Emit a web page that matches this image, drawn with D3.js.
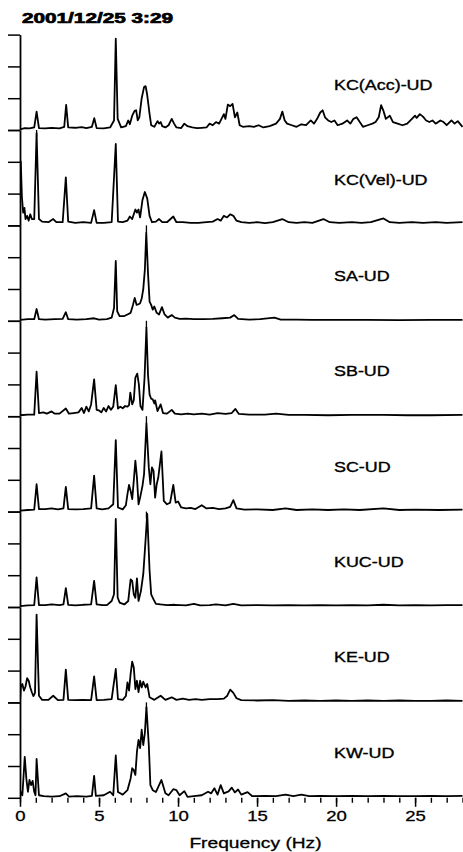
<!DOCTYPE html>
<html><head><meta charset="utf-8">
<script src="https://cdn.jsdelivr.net/npm/d3@7"></script>
<style>html,body{margin:0;padding:0;background:#fff;}svg{display:block;}</style>
</head><body>
<svg id="chart" width="463" height="852"></svg>
<script>
const title = "2001/12/25 3:29";
const panelNames = ["KC(Acc)-UD","KC(Vel)-UD","SA-UD","SB-UD","SC-UD","KUC-UD","KE-UD","KW-UD"];
const xTicks = [0,5,10,15,20,25];
const xMinorTicks = d3.range(0,29,1);
const yTicks = [0,1,2,3];
const markerFreqs = [1.05, 8.0, 8.0, 8.0, 8.0, null, 8.0, null];

const kcAcc = [[0,0.02],[0.3,0.06],[0.6,0.05],[0.9,0.08],[1.05,0.58],[1.2,0.06],[1.6,0.05],[2.0,0.07],[2.5,0.05],[2.8,0.1],[2.92,0.79],[3.05,0.08],[3.5,0.07],[3.9,0.09],[4.2,0.06],[4.55,0.1],[4.7,0.37],[4.85,0.06],[5.3,0.05],[5.7,0.08],[5.95,0.3],[6.06,2.87],[6.18,0.35],[6.4,0.08],[6.7,0.12],[6.85,0.3],[6.95,0.18],[7.1,0.45],[7.25,0.6],[7.35,0.62],[7.45,0.3],[7.55,0.4],[7.7,1.0],[7.85,1.35],[7.95,1.38],[8.05,1.1],[8.2,0.5],[8.3,0.15],[8.5,0.1],[8.7,0.28],[8.8,0.2],[8.9,0.25],[9.0,0.12],[9.2,0.08],[9.4,0.15],[9.6,0.35],[9.75,0.2],[9.9,0.08],[10.2,0.06],[10.4,0.2],[10.6,0.12],[10.9,0.08],[11.2,0.06],[11.5,0.07],[11.8,0.08],[12.0,0.2],[12.2,0.15],[12.4,0.25],[12.6,0.2],[12.75,0.35],[12.9,0.5],[13.0,0.35],[13.15,0.8],[13.3,0.75],[13.45,0.82],[13.6,0.4],[13.75,0.55],[13.9,0.15],[14.1,0.1],[14.5,0.12],[14.8,0.1],[15.1,0.15],[15.4,0.08],[15.8,0.12],[16.2,0.2],[16.45,0.35],[16.6,0.58],[16.75,0.3],[16.9,0.2],[17.2,0.15],[17.5,0.1],[17.8,0.18],[18.1,0.15],[18.4,0.3],[18.6,0.2],[18.8,0.35],[19.0,0.55],[19.15,0.62],[19.3,0.4],[19.5,0.3],[19.7,0.25],[19.9,0.3],[20.1,0.15],[20.4,0.2],[20.7,0.3],[20.9,0.2],[21.1,0.35],[21.3,0.4],[21.5,0.25],[21.7,0.1],[22.0,0.15],[22.3,0.2],[22.5,0.25],[22.7,0.4],[22.85,0.78],[23.0,0.6],[23.15,0.35],[23.4,0.45],[23.6,0.25],[23.9,0.2],[24.2,0.15],[24.5,0.2],[24.8,0.35],[25.0,0.45],[25.1,0.38],[25.3,0.5],[25.5,0.42],[25.7,0.3],[25.9,0.25],[26.1,0.3],[26.3,0.2],[26.6,0.3],[26.8,0.25],[27.0,0.15],[27.3,0.3],[27.5,0.2],[27.7,0.28],[28.0,0.1]];

const kcVel = [[0,2.05],[0.05,2.0],[0.12,0.9],[0.2,0.4],[0.28,0.55],[0.35,0.2],[0.45,0.3],[0.55,0.15],[0.65,0.35],[0.75,0.2],[0.9,0.2],[1.05,2.9],[1.2,0.2],[1.4,0.12],[1.8,0.1],[2.1,0.2],[2.3,0.1],[2.7,0.1],[2.9,1.51],[3.05,0.12],[3.5,0.08],[4.0,0.1],[4.5,0.08],[4.69,0.48],[4.85,0.08],[5.3,0.08],[5.8,0.1],[6.06,2.56],[6.2,0.12],[6.5,0.1],[6.8,0.15],[6.95,0.28],[7.1,0.2],[7.3,0.5],[7.4,0.4],[7.5,0.5],[7.6,0.25],[7.75,0.8],[7.9,1.05],[8.05,0.85],[8.2,0.3],[8.35,0.1],[8.6,0.12],[8.8,0.2],[9.0,0.1],[9.3,0.1],[9.7,0.28],[9.9,0.1],[10.3,0.1],[10.8,0.08],[11.3,0.08],[11.8,0.1],[12.2,0.12],[12.5,0.2],[12.7,0.15],[12.9,0.3],[13.1,0.25],[13.3,0.35],[13.5,0.3],[13.7,0.15],[14.0,0.1],[14.5,0.08],[15.0,0.1],[15.5,0.07],[16.0,0.1],[16.6,0.2],[17.0,0.1],[17.5,0.08],[18.0,0.1],[18.5,0.08],[19.2,0.2],[19.6,0.1],[20.2,0.08],[21.0,0.1],[21.6,0.08],[22.2,0.1],[23.0,0.22],[23.4,0.1],[24.0,0.08],[24.8,0.1],[25.5,0.08],[26.3,0.1],[27.0,0.08],[28.0,0.1]];

const sa = [[0,0.03],[0.5,0.05],[0.9,0.05],[1.05,0.37],[1.2,0.05],[1.6,0.04],[2.2,0.05],[2.7,0.06],[2.9,0.27],[3.05,0.05],[3.6,0.04],[4.2,0.05],[4.69,0.08],[5.0,0.04],[5.5,0.05],[5.8,0.1],[5.95,0.4],[6.06,1.88],[6.15,0.3],[6.3,0.15],[6.6,0.15],[6.8,0.2],[7.0,0.25],[7.15,0.5],[7.26,0.72],[7.38,0.5],[7.5,0.52],[7.6,0.55],[7.7,0.7],[7.8,1.0],[7.9,1.6],[7.99,2.77],[8.1,1.5],[8.2,0.6],[8.3,0.5],[8.4,0.35],[8.5,0.45],[8.65,0.25],[8.8,0.2],[8.98,0.43],[9.15,0.2],[9.35,0.1],[9.6,0.18],[9.8,0.1],[10.1,0.06],[10.5,0.07],[11.0,0.05],[11.6,0.05],[12.2,0.06],[12.8,0.08],[13.3,0.1],[13.56,0.18],[13.8,0.06],[14.5,0.04],[15.2,0.05],[16.1,0.1],[16.5,0.04],[17.5,0.04],[18.5,0.03],[20,0.03],[22,0.03],[24,0.02],[26,0.03],[28,0.03]];

const sb = [[0,0.03],[0.5,0.05],[0.9,0.05],[1.05,1.4],[1.2,0.1],[1.47,0.12],[1.7,0.08],[2.0,0.15],[2.2,0.08],[2.5,0.08],[2.9,0.24],[3.1,0.08],[3.4,0.1],[3.7,0.12],[3.9,0.26],[4.05,0.1],[4.2,0.3],[4.35,0.15],[4.5,0.37],[4.69,1.16],[4.85,0.2],[5.0,0.18],[5.15,0.12],[5.3,0.26],[5.45,0.15],[5.6,0.32],[5.75,0.2],[5.9,0.3],[6.06,0.98],[6.2,0.24],[6.35,0.3],[6.5,0.25],[6.65,0.32],[6.8,0.3],[6.9,0.35],[6.98,0.74],[7.1,0.37],[7.2,0.5],[7.3,1.21],[7.42,1.34],[7.52,1.0],[7.62,0.32],[7.75,0.2],[7.88,1.2],[8.0,2.79],[8.1,1.3],[8.2,0.68],[8.3,0.55],[8.4,0.53],[8.5,0.4],[8.55,0.5],[8.7,0.16],[8.9,0.37],[9.05,0.1],[9.3,0.08],[9.6,0.2],[9.8,0.08],[10.2,0.06],[10.6,0.08],[11.0,0.06],[11.5,0.08],[12.0,0.05],[12.5,0.1],[13.0,0.07],[13.4,0.1],[13.63,0.23],[13.85,0.07],[14.5,0.05],[15.5,0.05],[16.2,0.08],[17,0.04],[18,0.04],[19.5,0.03],[21,0.04],[23,0.04],[24.5,0.03],[26,0.03],[28,0.04]];

const sc = [[0,0.03],[0.5,0.05],[0.9,0.06],[1.05,0.86],[1.2,0.08],[1.6,0.08],[2.0,0.1],[2.4,0.07],[2.75,0.1],[2.9,0.78],[3.05,0.08],[3.5,0.07],[4.0,0.08],[4.5,0.1],[4.69,1.13],[4.85,0.1],[5.2,0.07],[5.6,0.1],[5.9,0.23],[6.06,2.25],[6.2,0.13],[6.5,0.07],[6.7,0.2],[6.8,0.55],[6.9,0.84],[7.0,0.65],[7.1,0.39],[7.2,0.97],[7.3,1.6],[7.4,1.07],[7.5,0.23],[7.6,0.44],[7.75,0.81],[7.85,1.18],[8.0,2.78],[8.15,1.39],[8.25,0.86],[8.35,1.39],[8.45,1.28],[8.55,0.44],[8.65,0.86],[8.75,1.07],[8.95,1.89],[9.1,0.34],[9.3,0.23],[9.5,0.28],[9.7,0.84],[9.85,0.28],[10.0,0.32],[10.2,0.13],[10.5,0.1],[10.8,0.12],[11.1,0.08],[11.5,0.2],[11.8,0.1],[12.2,0.12],[12.6,0.08],[13.0,0.1],[13.3,0.15],[13.5,0.36],[13.7,0.1],[14.2,0.06],[15,0.07],[16,0.05],[16.8,0.1],[17.5,0.05],[18.5,0.07],[19.5,0.05],[20.5,0.07],[21.5,0.05],[23,0.1],[24,0.05],[25,0.06],[26.5,0.05],[28,0.06]];

const kuc = [[0,0.03],[0.5,0.05],[0.9,0.06],[1.05,0.93],[1.2,0.06],[1.6,0.06],[2.0,0.08],[2.5,0.06],[2.75,0.08],[2.9,0.59],[3.05,0.07],[3.5,0.05],[4.0,0.07],[4.5,0.08],[4.69,0.82],[4.85,0.08],[5.2,0.06],[5.5,0.06],[5.8,0.19],[5.95,0.4],[6.06,2.77],[6.18,0.3],[6.3,0.14],[6.6,0.08],[6.85,0.19],[7.0,0.87],[7.1,0.82],[7.2,0.4],[7.3,0.29],[7.4,0.9],[7.5,0.19],[7.65,0.5],[7.8,1.03],[7.95,2.14],[8.05,2.93],[8.2,1.14],[8.3,0.4],[8.45,0.24],[8.6,0.1],[8.9,0.08],[9.3,0.06],[9.8,0.07],[10.5,0.05],[11.0,0.1],[11.4,0.05],[12.0,0.06],[12.4,0.08],[13.0,0.05],[13.5,0.1],[14,0.05],[15,0.06],[16,0.05],[17,0.06],[18,0.05],[19,0.06],[20,0.05],[21,0.06],[22,0.05],[23,0.07],[24,0.05],[25,0.06],[26,0.05],[27,0.06],[28,0.06]];

const ke = [[0,0.0],[0.05,0.47],[0.15,0.58],[0.25,0.37],[0.35,0.5],[0.45,0.76],[0.55,0.68],[0.65,0.47],[0.75,0.32],[0.85,0.2],[0.95,0.3],[1.05,2.76],[1.2,0.21],[1.4,0.08],[1.8,0.08],[2.1,0.21],[2.4,0.07],[2.75,0.08],[2.9,1.03],[3.05,0.08],[3.5,0.07],[4.0,0.08],[4.5,0.07],[4.69,0.82],[4.85,0.07],[5.3,0.08],[5.8,0.1],[6.06,1.05],[6.2,0.1],[6.5,0.08],[6.7,0.2],[6.8,0.63],[6.9,0.37],[7.0,0.9],[7.1,1.28],[7.2,1.1],[7.3,0.42],[7.4,0.68],[7.5,0.32],[7.6,0.68],[7.7,0.47],[7.8,0.65],[7.95,0.47],[8.05,0.58],[8.2,0.16],[8.5,0.08],[8.9,0.21],[9.2,0.08],[9.6,0.16],[9.9,0.08],[10.3,0.12],[10.7,0.08],[11.1,0.1],[11.5,0.08],[12.0,0.1],[12.5,0.1],[12.9,0.12],[13.1,0.2],[13.3,0.4],[13.5,0.3],[13.7,0.13],[14.0,0.07],[15,0.06],[16,0.07],[17,0.05],[18,0.06],[19,0.05],[20,0.06],[21,0.05],[22,0.06],[23,0.05],[24,0.06],[25,0.05],[26,0.05],[27,0.06],[28,0.05]];

const kw = [[0,0],[0.05,0.19],[0.15,0.08],[0.3,1.29],[0.4,0.61],[0.5,0.19],[0.6,0.56],[0.7,0.4],[0.8,0.53],[0.9,0.19],[0.98,0.08],[1.05,1.22],[1.2,0.08],[1.5,0.05],[2.0,0.04],[2.5,0.05],[2.9,0.14],[3.1,0.04],[3.6,0.05],[4.2,0.04],[4.55,0.06],[4.69,0.69],[4.8,0.06],[5.3,0.08],[5.7,0.19],[5.9,0.08],[6.06,1.33],[6.2,0.18],[6.5,0.1],[6.8,0.24],[7.0,0.61],[7.1,0.93],[7.2,0.87],[7.3,0.72],[7.4,1.45],[7.5,1.82],[7.6,1.56],[7.7,2.14],[7.8,1.66],[7.9,2.03],[8.0,2.85],[8.15,1.66],[8.25,0.4],[8.4,0.24],[8.6,0.18],[8.95,0.56],[9.2,0.14],[9.4,0.08],[9.7,0.27],[9.9,0.24],[10.1,0.08],[10.4,0.21],[10.6,0.03],[11.0,0.05],[11.5,0.08],[11.9,0.19],[12.1,0.14],[12.3,0.3],[12.5,0.1],[12.7,0.4],[12.9,0.14],[13.2,0.2],[13.4,0.32],[13.6,0.17],[13.8,0.26],[14.0,0.1],[14.4,0.18],[14.7,0.05],[15.5,0.06],[16.2,0.05],[16.8,0.1],[17.3,0.05],[17.8,0.1],[18.3,0.05],[19,0.06],[20,0.05],[21,0.06],[22,0.05],[23,0.06],[24,0.05],[25,0.05],[26,0.06],[27,0.05],[28,0.06]];

const seriesList = [kcAcc, kcVel, sa, sb, sc, kuc, ke, kw];

// ---- layout ----
const W = 463, H = 852;
const left = 20, plotRight = 462.5;
const firstBase = 130, panelH = 95.4;
const textStretch = 1.28;
const fontFam = "'Liberation Sans', Arial, sans-serif";

const svg = d3.select("#chart");
svg.append("rect").attr("width", W).attr("height", H).attr("fill", "#fff");

const x = d3.scaleLinear().domain([0, 28]).range([left, plotRight]);

svg.append("defs").append("clipPath").attr("id", "clip")
  .append("rect").attr("x", left).attr("y", 0).attr("width", W - left).attr("height", H);

// title
svg.append("text")
  .attr("x", 22).attr("y", 23)
  .attr("textLength", 151).attr("lengthAdjust", "spacingAndGlyphs")
  .style("font-family", fontFam)
  .style("font-weight", "bold").style("font-size", "14.5px")
  .attr("stroke", "#000").attr("stroke-width", 0.7)
  .text(title);

const line = d3.line().curve(d3.curveLinear);

seriesList.forEach((data, i) => {
  const base = firstBase + i * panelH;
  const y = d3.scaleLinear().domain([0, 3]).range([base, base - panelH]);
  const g = svg.append("g");

  // left axis
  const ax = g.append("g").attr("transform", `translate(${left},0)`)
    .call(d3.axisLeft(y).tickValues(yTicks).tickSize(12).tickSizeOuter(0).tickFormat(""));
  ax.select(".domain").attr("stroke", "#000").attr("stroke-width", 1.8);
  ax.selectAll(".tick line").attr("stroke", "#000").attr("stroke-width", 1.5);

  // curve
  line.x(d => x(d[0])).y(d => y(d[1]));
  g.append("path")
    .datum(data)
    .attr("clip-path", "url(#clip)")
    .attr("d", line)
    .attr("fill", "none")
    .attr("stroke", "#000")
    .attr("stroke-width", 1.8)
    .attr("stroke-linejoin", "round");

  // marker
  if (markerFreqs[i] !== null) {
    g.append("line")
      .attr("x1", x(markerFreqs[i])).attr("x2", x(markerFreqs[i]))
      .attr("y1", base).attr("y2", base + 7)
      .attr("stroke", "#000").attr("stroke-width", 1.3);
  }

  // label
  const lx = 334, ly = base - 40;
  g.append("text")
    .attr("transform", `translate(${lx},${ly}) scale(${textStretch},1)`)
    .style("font-family", fontFam)
    .style("font-size", "14px")
    .attr("fill", "#000").attr("stroke", "#000").attr("stroke-width", 0.35)
    .text(panelNames[i]);

  if (i === seriesList.length - 1) {
    const minor = g.append("g").attr("transform", `translate(0,${base})`)
      .call(d3.axisBottom(x).tickValues(xMinorTicks).tickSize(5).tickSizeOuter(0).tickFormat(""));
    minor.select(".domain").remove();
    minor.selectAll(".tick line").attr("stroke", "#000").attr("stroke-width", 1.4);
    const major = g.append("g").attr("transform", `translate(0,${base})`)
      .call(d3.axisBottom(x).tickValues(xTicks).tickSize(9).tickSizeOuter(0).tickPadding(4).tickFormat(d3.format("d")));
    major.select(".domain").remove();
    major.selectAll(".tick line").attr("stroke", "#000").attr("stroke-width", 1.5);
    major.selectAll(".tick text")
      .attr("fill", "#000").attr("stroke", "#000").attr("stroke-width", 0.3)
      .style("font-family", fontFam)
      .style("font-size", "14.5px")
      .attr("transform", `scale(${textStretch},1)`);
    svg.append("text")
      .attr("transform", `translate(${(left + 463) / 2 + 14},${base + 50}) scale(${textStretch},1)`)
      .attr("text-anchor", "middle")
      .style("font-family", fontFam)
      .style("font-size", "15px")
      .attr("fill", "#000").attr("stroke", "#000").attr("stroke-width", 0.3)
      .text("Frequency (Hz)");
  }
});
</script>
</body></html>
